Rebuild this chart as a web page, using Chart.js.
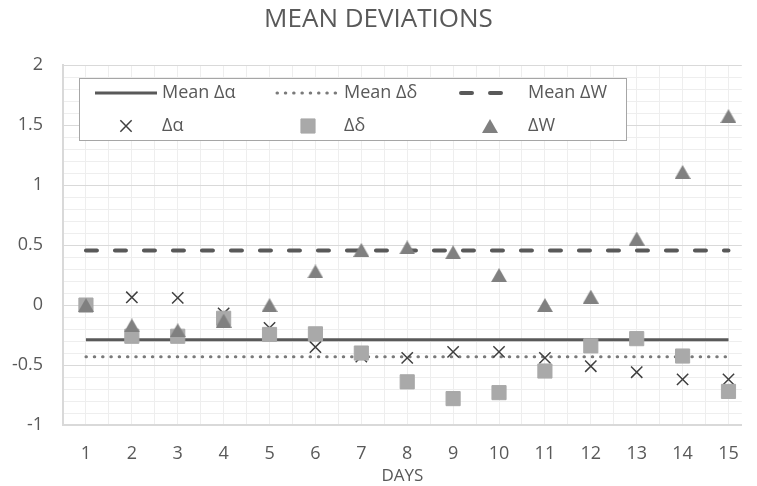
<!DOCTYPE html>
<html lang="en">
<head>
<meta charset="UTF-8">
<title>Mean deviations</title>
<script src="https://cdn.jsdelivr.net/npm/chart.js@4.4.0/dist/chart.umd.min.js"></script>
<style>
    html, body { margin: 0; padding: 0; background: white; overflow: hidden; }
</style>
</head>
<body>
<canvas id="myChart" width="757" height="486"></canvas>
<script>
// data
var days = [1, 2, 3, 4, 5, 6, 7, 8, 9, 10, 11, 12, 13, 14, 15];
var dAlpha = [0, 0.065, 0.06, -0.07, -0.19, -0.35, -0.43, -0.44, -0.39, -0.39, -0.44, -0.51, -0.56, -0.62, -0.62];
var dDelta = [0, -0.26, -0.26, -0.11, -0.245, -0.24, -0.40, -0.64, -0.78, -0.73, -0.55, -0.34, -0.28, -0.425, -0.72];
var dW = [0, -0.17, -0.21, -0.13, 0, 0.28, 0.46, 0.48, 0.44, 0.25, 0, 0.07, 0.555, 1.11, 1.575];
var meanAlpha = -0.29;
var meanDelta = -0.43;
var meanW = 0.455;
var yTickValues = [2, 1.5, 1, 0.5, 0, -0.5, -1];

var textColor = '#595959';
var fontName = "'Open Sans', sans-serif";

function pts(vals) {
    return days.map(function (d, i) { return { x: d, y: vals[i] }; });
}
function flat(v) {
    return [{ x: days[0], y: v }, { x: days[days.length - 1], y: v }];
}

// triangle marker centred on its box (like Excel), not on its centroid
var tri = document.createElement('canvas');
tri.width = 16;
tri.height = 14;
(function () {
    var c = tri.getContext('2d');
    c.fillStyle = '#808080';
    c.beginPath();
    c.moveTo(8, 0);
    c.lineTo(16, 14);
    c.lineTo(0, 14);
    c.closePath();
    c.fill();
})();

var datasets = [
    { label: 'ΔW', data: pts(dW), showLine: false, pointStyle: tri, pointRadius: 8,
      backgroundColor: '#808080', borderColor: '#808080', borderWidth: 0 },
    { label: 'Δδ', data: pts(dDelta), showLine: false, pointStyle: 'rect', pointRadius: 10,
      backgroundColor: '#a9a9a9', borderColor: '#a9a9a9', borderWidth: 1 },
    { label: 'Δα', data: pts(dAlpha), showLine: false, pointStyle: 'crossRot', pointRadius: 8,
      backgroundColor: '#404040', borderColor: '#404040', borderWidth: 1.5 },
    { label: 'Mean ΔW', data: flat(meanW), showLine: true, pointRadius: 0, borderColor: '#595959',
      borderWidth: 4, borderDash: [11, 18], borderCapStyle: 'round' },
    { label: 'Mean Δδ', data: flat(meanDelta), showLine: true, pointRadius: 0, borderColor: '#7a7a7a',
      borderWidth: 3, borderDash: [0.5, 7.8], borderCapStyle: 'round' },
    { label: 'Mean Δα', data: flat(meanAlpha), showLine: true, pointRadius: 0, borderColor: '#595959',
      borderWidth: 3 }
];

// legend in a box, two rows of three like the original
var boxLegend = {
    id: 'boxLegend',
    afterDraw: function (chart) {
        var ctx = chart.ctx;
        var ds = chart.data.datasets;
        ctx.save();
        ctx.fillStyle = 'white';
        ctx.fillRect(79.5, 78.5, 547, 62);
        ctx.strokeStyle = '#a6a6a6';
        ctx.lineWidth = 1;
        ctx.strokeRect(79.5, 78.5, 547, 62);

        var rowY = [93, 126];
        var lineX = [[95, 157], [277, 338], [461, 519]];
        var markX = [126, 308, 490];
        var textX = [162, 344, 528];
        var lines = [ds[5], ds[4], ds[3]];
        var marks = [ds[2], ds[1], ds[0]];

        ctx.font = '18px ' + fontName;
        ctx.textBaseline = 'middle';
        for (var i = 0; i < 3; i++) {
            var l = lines[i];
            ctx.beginPath();
            ctx.setLineDash(l.borderDash || []);
            ctx.lineCap = l.borderCapStyle || 'butt';
            ctx.lineWidth = l.borderWidth;
            ctx.strokeStyle = l.borderColor;
            ctx.moveTo(lineX[i][0], rowY[0]);
            ctx.lineTo(lineX[i][1], rowY[0]);
            ctx.stroke();
            ctx.setLineDash([]);
            ctx.lineCap = 'butt';
            ctx.fillStyle = textColor;
            ctx.fillText(l.label, textX[i], rowY[0]);

            var m = marks[i];
            ctx.fillStyle = m.backgroundColor;
            ctx.strokeStyle = m.borderColor;
            ctx.lineWidth = m.borderWidth;
            Chart.helpers.drawPoint(ctx, {
                pointStyle: m.pointStyle, radius: m.pointRadius, rotation: 0, borderWidth: m.borderWidth
            }, markX[i], rowY[1]);
            ctx.fillStyle = textColor;
            ctx.fillText(m.label, textX[i], rowY[1]);
        }
        ctx.restore();
    }
};

var myChart = new Chart(document.getElementById('myChart'), {
    type: 'scatter',
    data: { datasets: datasets },
    plugins: [boxLegend],
    options: {
        responsive: false,
        animation: false,
        devicePixelRatio: 1,
        layout: { padding: 0 },
        plugins: {
            legend: { display: false },
            tooltip: { enabled: false },
            title: {
                display: true,
                text: 'MEAN DEVIATIONS',
                color: textColor,
                font: { family: fontName, size: 26, weight: 'normal' },
                padding: { top: 4, bottom: 30 }
            }
        },
        scales: {
            x: {
                type: 'linear',
                min: 0.5,
                max: 15.29,
                afterBuildTicks: function (scale) {
                    var t = [];
                    for (var v = 0.5; v <= 15; v += 0.5) t.push({ value: v });
                    scale.ticks = t;
                },
                afterFit: function (scale) { scale.height = 61; },
                ticks: {
                    autoSkip: false,
                    maxRotation: 0,
                    padding: 18,
                    color: textColor,
                    font: { family: fontName, size: 18 },
                    callback: function (v) { return days.indexOf(v) >= 0 ? String(v) : ''; }
                },
                grid: { color: '#eeeeee', lineWidth: 1, drawTicks: false },
                border: { display: true, color: '#d9d9d9', width: 2 },
                title: {
                    display: true,
                    text: 'DAYS',
                    color: textColor,
                    font: { family: fontName, size: 17 },
                    padding: { top: 0, bottom: 0 }
                }
            },
            y: {
                min: -1,
                max: 2,
                afterFit: function (scale) { scale.width = 63; },
                ticks: {
                    stepSize: 0.1,
                    autoSkip: false,
                    padding: 20,
                    color: textColor,
                    font: { family: fontName, size: 18 },
                    callback: function (v) {
                        for (var i = 0; i < yTickValues.length; i++) {
                            if (Math.abs(v - yTickValues[i]) < 1e-6) return String(yTickValues[i]);
                        }
                        return '';
                    }
                },
                grid: {
                    drawTicks: false,
                    lineWidth: 1,
                    color: function (c) {
                        var v = c.tick.value;
                        return Math.abs(v * 2 - Math.round(v * 2)) < 1e-6 ? '#d9d9d9' : '#eeeeee';
                    }
                },
                border: { display: true, color: '#d9d9d9', width: 2 }
            }
        }
    }
});
</script>
</body>
</html>
